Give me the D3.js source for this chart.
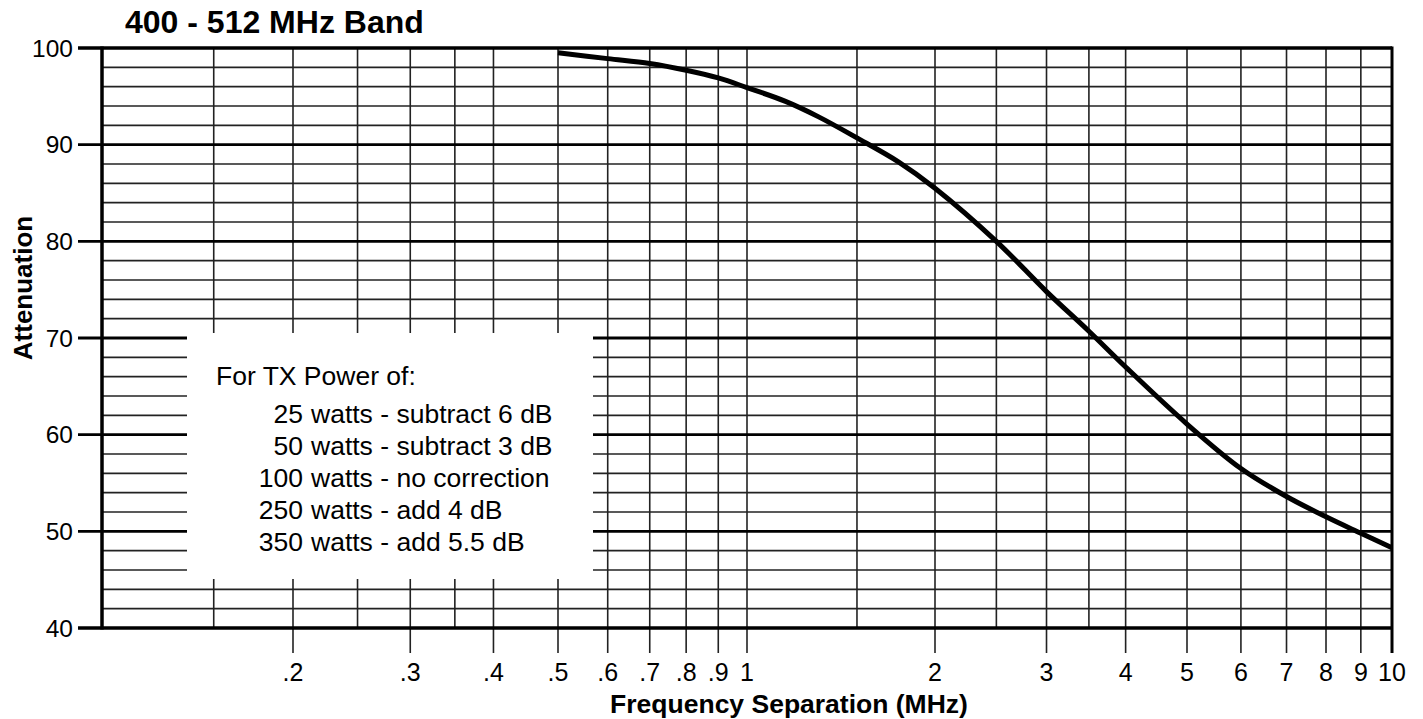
<!DOCTYPE html>
<html>
<head>
<meta charset="utf-8">
<script src="https://cdn.jsdelivr.net/npm/d3@7"></script>
<style>
  body { margin: 0; background: #fff; }
  text { font-family: "Liberation Sans", Arial, Helvetica, sans-serif; fill: #000; }
</style>
</head>
<body>
<div id="chart"></div>
<script>
// curve
var freqMHz = [0.5, 0.6, 0.7, 0.8, 0.9, 1, 1.15, 1.3, 1.5, 1.75, 2, 2.5, 3, 3.5, 4, 5, 6, 7, 8, 9, 10];
var attenuation = [99.5, 98.9, 98.4, 97.7, 96.9, 95.9, 94.5, 92.9, 90.7, 88.2, 85.5, 80.0, 74.8, 70.7, 67.0, 61.1, 56.5, 53.6, 51.5, 49.8, 48.3];

// axis ticks
var xTickValues = [0.2, 0.3, 0.4, 0.5, 0.6, 0.7, 0.8, 0.9, 1, 2, 3, 4, 5, 6, 7, 8, 9, 10];
var xTickLabels = [".2", ".3", ".4", ".5", ".6", ".7", ".8", ".9", "1", "2", "3", "4", "5", "6", "7", "8", "9", "10"];
var xExtraGrid = [0.15, 0.25, 0.35, 1.5, 2.5, 3.5];
var yMajorTicks = [40, 50, 60, 70, 80, 90, 100];
var yMinorTicks = [42, 44, 46, 48, 52, 54, 56, 58, 62, 64, 66, 68, 72, 74, 76, 78, 82, 84, 86, 88, 92, 94, 96, 98];

var chartTitle = "400 - 512 MHz Band";
var xTitle = "Frequency Separation (MHz)";
var yTitle = "Attenuation";
var legendHeader = "For TX Power of:";
var legendWatts = ["25", "50", "100", "250", "350"];
var legendNotes = ["watts - subtract 6 dB", "watts - subtract 3 dB", "watts - no correction", "watts - add 4 dB", "watts - add 5.5 dB"];

(function () {
  // layout
  var W = 1423, H = 719;
  var pLeft = 102, pRight = 1392, pTop = 48, pBottom = 628;

  // the printed log grid is slightly uneven, so pin the scale at a few points
  var x = d3.scaleLog()
    .domain([0.1, 0.2, 0.5, 1, 2, 5, 10])
    .range([pLeft, 293, 558, 747, 935, 1187, pRight]);
  var y = d3.scaleLinear().domain([40, 100]).range([pBottom, pTop]);

  var svg = d3.select("#chart").append("svg")
    .attr("width", W)
    .attr("height", H);

  var grid = svg.append("g");

  // minor horizontal lines
  grid.selectAll("line.hmin").data(yMinorTicks).enter().append("line")
    .attr("x1", pLeft).attr("x2", pRight)
    .attr("y1", function (d) { return y(d); }).attr("y2", function (d) { return y(d); })
    .attr("stroke", "#222").attr("stroke-width", 1.6);

  // vertical grid lines (labelled ones extend below as ticks)
  grid.selectAll("line.vtick").data(xTickValues).enter().append("line")
    .attr("x1", function (d) { return x(d); }).attr("x2", function (d) { return x(d); })
    .attr("y1", pTop).attr("y2", pBottom + 25)
    .attr("stroke", "#222").attr("stroke-width", 1.6);
  grid.selectAll("line.vextra").data(xExtraGrid).enter().append("line")
    .attr("x1", function (d) { return x(d); }).attr("x2", function (d) { return x(d); })
    .attr("y1", pTop).attr("y2", pBottom)
    .attr("stroke", "#222").attr("stroke-width", 1.6);

  // major horizontal lines with ticks on the left
  grid.selectAll("line.hmaj").data(yMajorTicks).enter().append("line")
    .attr("x1", pLeft - 24).attr("x2", pRight)
    .attr("y1", function (d) { return y(d); }).attr("y2", function (d) { return y(d); })
    .attr("stroke", "#000").attr("stroke-width", function (d) { return (d === 40 || d === 100) ? 3.5 : 2.8; });

  // left and right borders
  svg.append("line").attr("x1", pLeft).attr("x2", pLeft).attr("y1", pTop - 1.5).attr("y2", pBottom + 1.5)
    .attr("stroke", "#000").attr("stroke-width", 3.5);
  svg.append("line").attr("x1", pRight).attr("x2", pRight).attr("y1", pTop - 1.5).attr("y2", pBottom + 25)
    .attr("stroke", "#000").attr("stroke-width", 3);

  // legend box blanks out the grid
  svg.append("rect")
    .attr("x", 187).attr("y", 333)
    .attr("width", 593 - 187).attr("height", 579 - 333)
    .attr("fill", "#fff");

  var legend = svg.append("g").style("font-size", "26.5px");
  legend.append("text").attr("x", 216).attr("y", 385).text(legendHeader);
  legendWatts.forEach(function (w, i) {
    legend.append("text").attr("x", 303).attr("y", 423 + i * 32)
      .attr("text-anchor", "end").text(w);
    legend.append("text").attr("x", 311).attr("y", 423 + i * 32)
      .text(legendNotes[i]);
  });

  // the curve
  var line = d3.line()
    .x(function (d) { return x(d[0]); })
    .y(function (d) { return y(d[1]); })
    .curve(d3.curveCatmullRom.alpha(0.5));

  svg.append("path")
    .datum(d3.zip(freqMHz, attenuation))
    .attr("d", line)
    .attr("fill", "none")
    .attr("stroke", "#000")
    .attr("stroke-width", 5);

  // tick labels
  svg.selectAll("text.xl").data(xTickValues).enter().append("text")
    .attr("x", function (d) { return x(d); })
    .attr("y", 681)
    .attr("text-anchor", "middle")
    .style("font-size", "25px")
    .text(function (d, i) { return xTickLabels[i]; });

  svg.selectAll("text.yl").data(yMajorTicks).enter().append("text")
    .attr("x", 73)
    .attr("y", function (d) { return y(d); })
    .attr("dy", "0.36em")
    .attr("text-anchor", "end")
    .style("font-size", "24.5px")
    .text(function (d) { return d; });

  // titles
  svg.append("text").attr("x", 125).attr("y", 33)
    .style("font-size", "32px").style("font-weight", "bold")
    .text(chartTitle);

  svg.append("text").attr("x", (610 + 968) / 2).attr("y", 713)
    .attr("text-anchor", "middle")
    .style("font-size", "26.5px").style("font-weight", "bold")
    .text(xTitle);

  svg.append("text")
    .attr("transform", "translate(32,288) rotate(-90)")
    .attr("text-anchor", "middle")
    .style("font-size", "26px").style("font-weight", "bold")
    .text(yTitle);
})();
</script>
</body>
</html>
